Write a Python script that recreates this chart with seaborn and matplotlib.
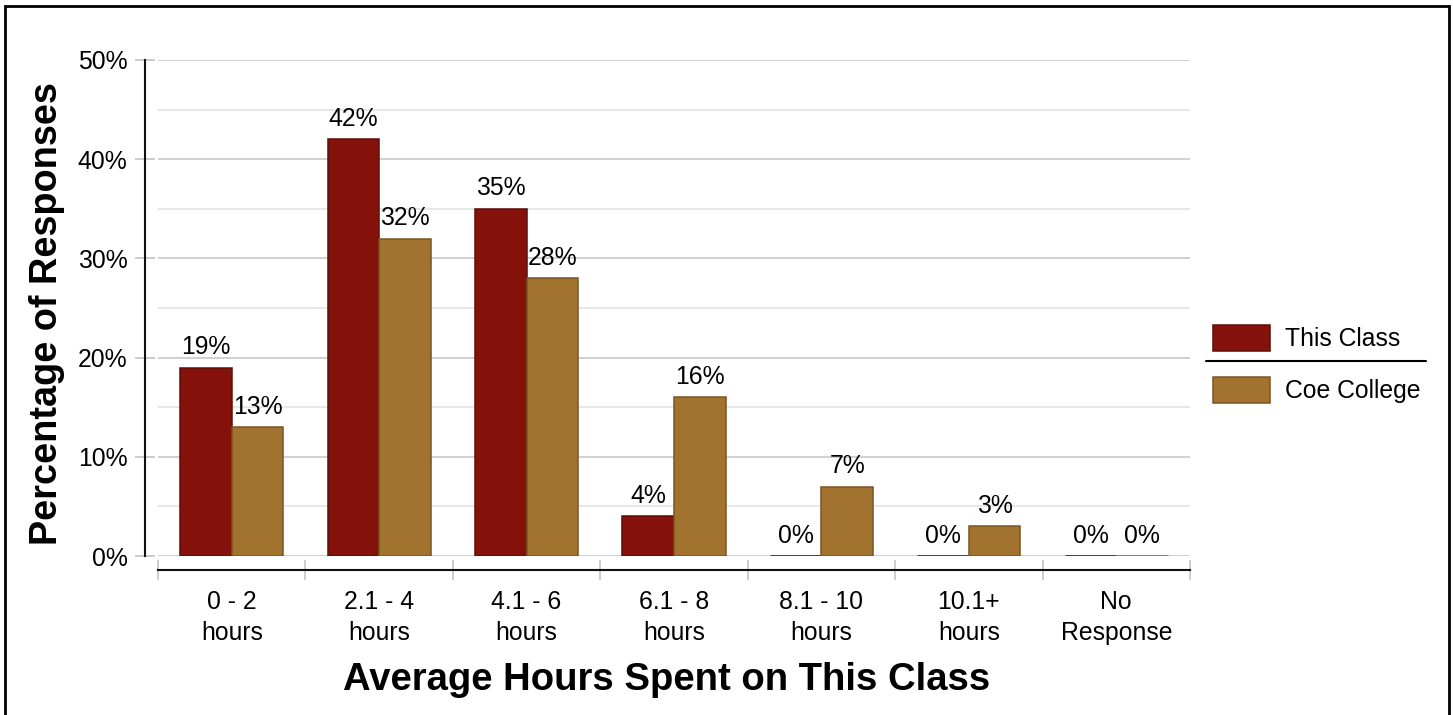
import numpy as np
import pandas as pd
import matplotlib
matplotlib.use("Agg")
import matplotlib.pyplot as plt
from matplotlib.lines import Line2D
from matplotlib.patches import Rectangle, Patch
from matplotlib.ticker import MultipleLocator, FixedLocator
import seaborn as sns

# data
categories = ["0 - 2\nhours", "2.1 - 4\nhours", "4.1 - 6\nhours", "6.1 - 8\nhours",
              "8.1 - 10\nhours", "10.1+\nhours", "No\nResponse"]
this_class = [19, 42, 35, 4, 0, 0, 0]
coe_college = [13, 32, 28, 16, 7, 3, 0]
series_names = ["This Class", "Coe College"]

fill_colors = ["#84120B", "#A2722F"]
edge_colors = ["#5E0E08", "#7A5522"]

df = pd.DataFrame({
    "category": categories * 2,
    "pct": [v / 100 for v in this_class + coe_college],
    "group": [series_names[0]] * len(categories) + [series_names[1]] * len(categories),
})

sns.set_style("white")
plt.rcParams["font.family"] = ["Liberation Sans", "DejaVu Sans"]
plt.rcParams["text.color"] = "black"
plt.rcParams["xtick.color"] = "black"
plt.rcParams["ytick.color"] = "black"

W, H = 1453, 715
fs = 17.8
fig = plt.figure(figsize=(W / 100, H / 100), dpi=100)
ax = fig.add_axes([158 / W, 1 - 556 / H, (1190 - 158) / W, (556 - 60) / H])

sns.barplot(data=df, x="category", y="pct", hue="group", palette=fill_colors,
            width=0.7, saturation=1, legend=False, ax=ax, zorder=3)

for cont, fc, ec in zip(ax.containers, fill_colors, edge_colors):
    for bar in cont:
        # empty bars are drawn as a thin line in the bar colour
        if bar.get_height() > 0:
            bar.set_edgecolor(ec)
            bar.set_linewidth(1.1)
        else:
            bar.set_edgecolor(fc)
            bar.set_linewidth(2)
    ax.bar_label(cont, labels=[f"{b.get_height() * 100:.0f}%" for b in cont],
                 padding=6, fontsize=fs, color="black")

ax.set_ylim(0, 0.5)
ax.set_xlim(-0.5, len(categories) - 0.5)
ax.yaxis.set_major_locator(MultipleLocator(0.1))
ax.yaxis.set_minor_locator(MultipleLocator(0.05))
ax.set_yticklabels([f"{int(round(t * 100))}%" for t in ax.get_yticks()])
ax.grid(which="major", axis="y", color="#C8C8C8", linewidth=1.2, zorder=0)
ax.grid(which="minor", axis="y", color="#E3E3E3", linewidth=1.2, zorder=0)
ax.set_axisbelow(True)

ax.xaxis.set_minor_locator(FixedLocator(np.arange(-0.5, len(categories), 1)))
ax.tick_params(axis="x", which="major", bottom=True, length=0, pad=14.8, labelsize=fs,
               labelcolor="black")
ax.tick_params(axis="x", which="minor", bottom=True, length=15, direction="inout",
               color="#C8C8C8", width=1.3)
ax.tick_params(axis="y", which="major", left=True, length=15, direction="inout",
               color="#C8C8C8", width=1.3, pad=5, labelsize=fs, labelcolor="black")
ax.tick_params(axis="y", which="minor", left=False, length=0)

for s in ["top", "right"]:
    ax.spines[s].set_visible(False)
ax.spines["left"].set_position(("outward", 9.4))
ax.spines["bottom"].set_position(("outward", 10))
for s in ["left", "bottom"]:
    ax.spines[s].set_color("#111111")
    ax.spines[s].set_linewidth(1.5)
ax.set_xlabel("")
ax.set_ylabel("")

fig.text(667 / W, 1 - 680 / H, "Average Hours Spent on This Class", ha="center", va="center",
         fontsize=27.5, fontweight="bold")
fig.text(47 / W, 1 - 314 / H, "Percentage of Responses", ha="center", va="center",
         rotation=90, fontsize=27.3, fontweight="bold")

handles = [Patch(facecolor=f, edgecolor=e, linewidth=1.1, label=n)
           for f, e, n in zip(fill_colors, edge_colors, series_names)]
fig.legend(handles=handles, loc="center left", bbox_to_anchor=(1203 / W, 1 - 364 / H),
           frameon=False, fontsize=fs, handlelength=2.3, handleheight=1.25,
           handletextpad=0.6, labelspacing=1.05, borderaxespad=0)
fig.add_artist(Line2D([1206 / W, 1426 / W], [1 - 361 / H, 1 - 361 / H],
                      color="black", linewidth=1.5, transform=fig.transFigure))

fig.add_artist(Rectangle((5 / W, -0.05), (1449 - 5) / W, 1.05 - 6 / H, transform=fig.transFigure,
                         fill=False, edgecolor="black", linewidth=2))

fig.canvas.draw()
for lbl in ax.get_xticklabels():
    lbl.set_linespacing(1.33)

fig.savefig("out.png", dpi=100)
